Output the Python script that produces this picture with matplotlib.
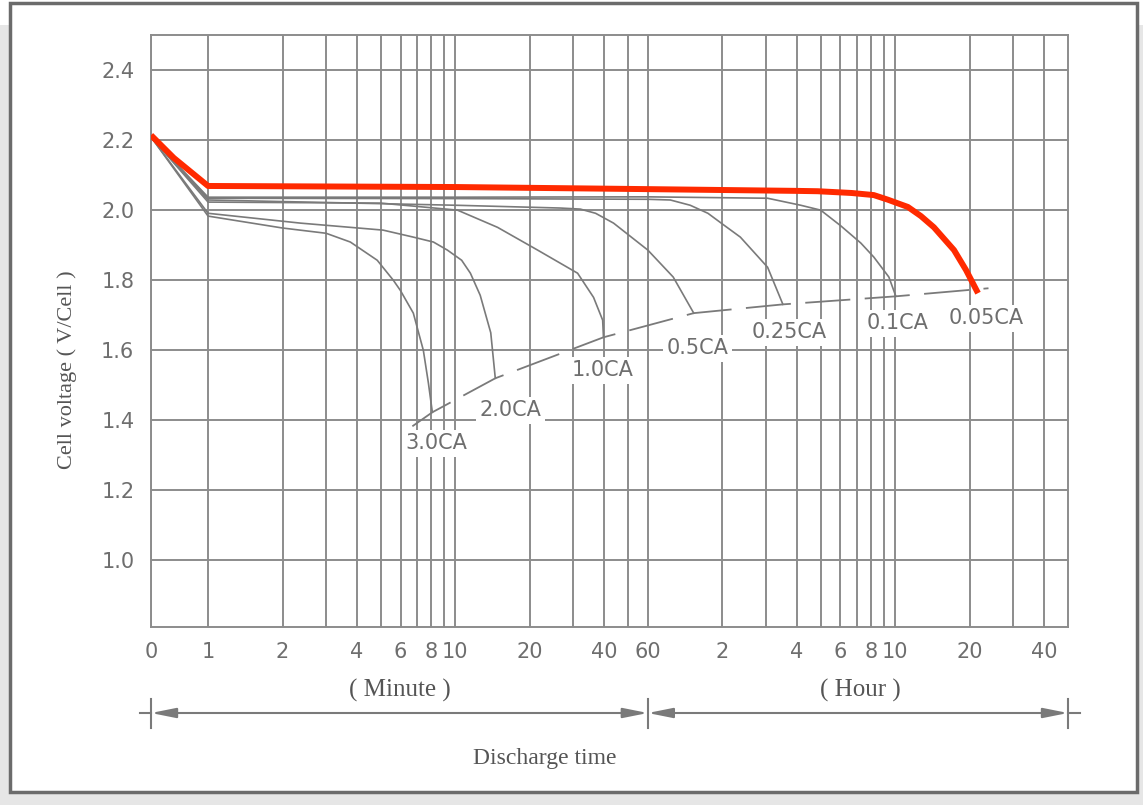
import numpy as np
import matplotlib.pyplot as plt
from matplotlib.patches import Rectangle

# discharge curves (time in minutes, cell voltage)
t_30 = [0, 1, 2, 3, 3.76, 4.83, 5.61, 5.99, 6.76, 7.42, 7.78, 8.07]
v_30 = [2.209, 1.983, 1.949, 1.934, 1.909, 1.857, 1.80, 1.771, 1.706, 1.60, 1.506, 1.423]

t_20 = [0, 1, 2.36, 5.1, 6.76, 8.15, 9.28, 10.6, 11.5, 12.6, 13.9, 14.5]
v_20 = [2.209, 1.991, 1.963, 1.943, 1.923, 1.909, 1.886, 1.857, 1.82, 1.757, 1.65, 1.52]

t_10 = [0, 1, 5, 10.2, 14.8, 21.5, 31.2, 36.2, 39.4, 39.7]
v_10 = [2.209, 2.023, 2.02, 2.0, 1.951, 1.886, 1.82, 1.751, 1.686, 1.637]

t_05 = [0, 1, 10, 26.6, 32, 36.9, 43.6, 60, 76, 92]
v_05 = [2.209, 2.029, 2.014, 2.006, 2.003, 1.991, 1.963, 1.886, 1.809, 1.706]

t_025 = [0, 1, 10, 60, 74, 89, 105, 122, 142, 183, 211]
v_025 = [2.209, 2.034, 2.033, 2.031, 2.029, 2.014, 1.991, 1.957, 1.923, 1.837, 1.731]

t_01 = [0, 1, 10, 60, 183, 249, 300, 362, 436, 492, 566, 604]
v_01 = [2.209, 2.037, 2.037, 2.038, 2.034, 2.014, 2.0, 1.955, 1.906, 1.866, 1.809, 1.754]

t_005 = [0, 0.4, 1, 10, 60, 240, 292, 400, 492, 560, 676, 763, 861, 1038, 1161, 1298]
v_005 = [2.214, 2.149, 2.069, 2.066, 2.06, 2.055, 2.054, 2.049, 2.043, 2.03, 2.009, 1.983, 1.951, 1.886, 1.829, 1.763]

# end-of-discharge line
t_end = [6.7, 8.07, 14.5, 39.7, 92, 211, 604, 1431]
v_end = [1.383, 1.423, 1.52, 1.637, 1.706, 1.731, 1.754, 1.777]

rates = ['3.0CA', '2.0CA', '1.0CA', '0.5CA', '0.25CA', '0.1CA', '0.05CA']
rate_lbl_t = [8.38, 16.7, 39.4, 95.5, 223, 616, 1399]
rate_lbl_v = [1.334, 1.429, 1.543, 1.606, 1.651, 1.677, 1.691]

xtick_pos = [0, 1, 2, 4, 6, 8, 10, 20, 40, 60, 120, 240, 360, 480, 600, 1200, 2400]
xtick_lbl = ['0', '1', '2', '4', '6', '8', '10', '20', '40', '60',
             '2', '4', '6', '8', '10', '20', '40']
grid_minor = [3, 5, 7, 9, 30, 50, 180, 300, 420, 540, 1800]
yticks = [1.0, 1.2, 1.4, 1.6, 1.8, 2.0, 2.2, 2.4]

# x axis: linear 0..1 min, then log
K = 57 / 247.0

def fwd(t):
    t = np.asarray(t, float)
    with np.errstate(divide='ignore', invalid='ignore'):
        return np.where(t >= 1, np.log10(np.maximum(t, 1)), (t - 1) * K)

def inv(x):
    x = np.asarray(x, float)
    return np.where(x >= 0, np.power(10.0, np.clip(x, -10, 10)), x / K + 1)

grey = '#7a7a7a'
gridc = '#8c8c8c'
txtc = '#6e6e6e'
serifc = '#555555'

fig = plt.figure(figsize=(11.43, 8.05), dpi=100)
fig.patch.set_facecolor('white')
W, H = 1143.0, 805.0
# frame with a faint shadow
fig.add_artist(Rectangle((0, 0), 1, 1 - 25 / H, transform=fig.transFigure,
                         facecolor='#e6e6e6', edgecolor='none', zorder=-20))
fig.add_artist(Rectangle((10 / W, 1 - 792 / H), (1137 - 10) / W, (792 - 3) / H,
                         transform=fig.transFigure, facecolor='white',
                         edgecolor='#6b6b6b', lw=2.5, zorder=-10))

ax = fig.add_axes([151 / W, 1 - 627 / H, (1068 - 151) / W, (627 - 35) / H])
ax.set_xscale('function', functions=(fwd, inv))

for t, v in [(t_30, v_30), (t_20, v_20), (t_10, v_10), (t_05, v_05),
             (t_025, v_025), (t_01, v_01)]:
    ax.plot(t, v, color=grey, lw=1.2, zorder=3)
ax.plot(t_005, v_005, color='#ff2a00', lw=4.3, zorder=4, solid_capstyle='butt')

ln, = ax.plot(t_end, v_end, color=grey, lw=1.3, zorder=3)
ln.set_dashes((25, 8))

for name, tx, vy in zip(rates, rate_lbl_t, rate_lbl_v):
    ax.text(tx, vy, name, ha='center', va='center', fontsize=15, color=txtc,
            zorder=6, bbox=dict(facecolor='white', edgecolor='none', pad=2.5))

ax.set_xlim(0, 3000)
ax.set_ylim(0.81, 2.5)
ax.set_xticks(xtick_pos)
ax.set_xticklabels(xtick_lbl)
ax.set_xticks(grid_minor, minor=True)
ax.set_yticks(yticks)
ax.set_yticklabels(['%.1f' % y for y in yticks])
ax.tick_params(which='both', length=0, colors=txtc, labelsize=15)
ax.tick_params(axis='x', pad=11)
ax.tick_params(axis='y', pad=12)
ax.grid(which='both', color=gridc, lw=1.4, zorder=1)
ax.set_axisbelow(True)
for s in ax.spines.values():
    s.set_color(gridc)
    s.set_linewidth(1.4)

# dimension arrows under the axis
xt = ax.get_xaxis_transform()
ya = (627 - 713) / 592.0
arr = dict(arrowstyle='<|-|>,head_length=1.5,head_width=0.3', color=grey, lw=1.5,
           shrinkA=0, shrinkB=0)
ax.annotate('', xy=(0, ya), xytext=(60, ya), xycoords=xt, arrowprops=arr,
            annotation_clip=False)
ax.annotate('', xy=(60, ya), xytext=(3000, ya), xycoords=xt, arrowprops=arr,
            annotation_clip=False)
ax.plot([-0.2, 0], [ya, ya], transform=xt, color=grey, lw=1.5, clip_on=False)
ax.plot([3000, 3350], [ya, ya], transform=xt, color=grey, lw=1.5, clip_on=False)
for xv in [0, 60, 3000]:
    ax.plot([xv, xv], [(627 - 699) / 592.0, (627 - 728) / 592.0], transform=xt,
            color=grey, lw=1.5, clip_on=False)

serif = 'Liberation Serif'
fig.text(400 / W, 1 - 690 / H, '( Minute )', ha='center', va='center',
         family=serif, fontsize=18, color=serifc)
fig.text(860 / W, 1 - 690 / H, '( Hour )', ha='center', va='center',
         family=serif, fontsize=18, color=serifc)
fig.text(545 / W, 1 - 758 / H, 'Discharge time', ha='center', va='center',
         family=serif, fontsize=17, color=serifc)
fig.text(67 / W, 1 - 370 / H, 'Cell voltage ( V/Cell )', ha='center', va='center',
         rotation=90, family=serif, fontsize=16, color=serifc)

fig.savefig('out.png', dpi=100)
